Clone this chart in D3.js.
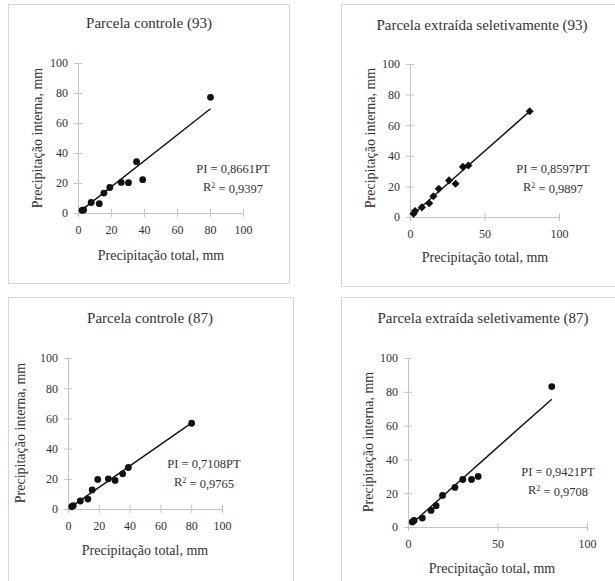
<!DOCTYPE html>
<html>
<head>
<meta charset="utf-8">
<script src="https://cdn.jsdelivr.net/npm/d3@7"></script>
<style>
  body { margin: 0; background: #fff; }
  svg text { font-family: "Liberation Serif", "DejaVu Serif", serif; }
</style>
</head>
<body>
<svg id="chart" width="615" height="581"></svg>
<script>
// precipitação total (mm) of each event, same events in all four plots
var precipTotal = [2.4, 3.4, 8, 12.9, 15.7, 19.3, 26.2, 30.6, 35.5, 39.2, 80.3]

// precipitação interna (mm) per plot
var controle93 = [1.8, 2.0, 7.0, 6.2, 13.3, 17.0, 20.4, 20.2, 34.2, 22.2, 77.1]
var extraida93 = [2.2, 3.9, 6.3, 9.0, 13.6, 18.4, 23.9, 21.7, 32.8, 33.7, 69.1]
var controle87 = [1.5, 2.2, 5.3, 6.6, 12.6, 19.6, 20.0, 18.9, 23.3, 27.5, 56.8]
var extraida87 = [3.0, 3.9, 5.3, 9.8, 12.6, 18.7, 23.4, 28.1, 28.1, 29.9, 83.1]

var titles = ["Parcela controle (93)", "Parcela extraída seletivamente (93)",
              "Parcela controle (87)", "Parcela extraída seletivamente (87)"]
var slopes = ["0,8661", "0,8597", "0,7108", "0,9421"]
var slopeValues = [0.8661, 0.8597, 0.7108, 0.9421]
var r2 = ["0,9397", "0,9897", "0,9765", "0,9708"]
var yTicks = [0, 20, 40, 60, 80, 100]
var xTicksFine = [0, 20, 40, 60, 80, 100]
var xTicksCoarse = [0, 50, 100]

var textColor = "#333"
var axisColor = "#c4c4c4"
var serif = "'Liberation Serif', 'DejaVu Serif', serif"

// layout of each panel (box, plot area, label spots)
var panels = [
  {data: controle93, marker: "circle", xTicks: xTicksFine,
   box: [8.5, 4.5, 281, 279], x0: 78, x1: 243, y0: 213, y1: 63,
   title: [149, 23], xlab: [161, 255], ylab: [37, 138], eq: [233, 169]},
  {data: extraida93, marker: "diamond", xTicks: xTicksCoarse,
   box: [341.5, 4.5, 300, 282], x0: 410, x1: 559, y0: 217, y1: 64,
   title: [482, 25], xlab: [485, 257], ylab: [370, 138], eq: [553, 169]},
  {data: controle87, marker: "circle", xTicks: xTicksFine,
   box: [8.5, 297.5, 285, 300], x0: 68, x1: 222, y0: 509, y1: 358,
   title: [150, 318], xlab: [145, 550], ylab: [20, 433], eq: [204, 464]},
  {data: extraida87, marker: "circle", xTicks: xTicksCoarse,
   box: [341.5, 297.5, 300, 300], x0: 408, x1: 587, y0: 527, y1: 358,
   title: [483, 318], xlab: [492, 568], ylab: [368, 442], eq: [558, 472]}
]

var svg = d3.select("#chart")

panels.forEach(function(p, i) {
  var g = svg.append("g")

  g.append("rect")
    .attr("x", p.box[0]).attr("y", p.box[1])
    .attr("width", p.box[2]).attr("height", p.box[3])
    .attr("fill", "none").attr("stroke", "#d6d6d6")

  var x = d3.scaleLinear().domain([0, 100]).range([p.x0, p.x1])
  var y = d3.scaleLinear().domain([0, 100]).range([p.y0, p.y1])

  var xAxis = g.append("g")
    .attr("transform", `translate(0,${p.y0})`)
    .call(d3.axisBottom(x).tickValues(p.xTicks).tickSize(4).tickSizeOuter(0).tickPadding(8))
  xAxis.selectAll(".tick line").attr("y1", -4)

  var yAxis = g.append("g")
    .attr("transform", `translate(${p.x0},0)`)
    .call(d3.axisLeft(y).tickValues(yTicks).tickSize(4).tickSizeOuter(0).tickPadding(6))
  yAxis.selectAll(".tick line").attr("x1", 4)

  g.selectAll(".domain, .tick line").attr("stroke", axisColor)
  g.selectAll("g").attr("font-family", serif)
  g.selectAll(".tick text")
    .attr("fill", textColor)
    .style("font-family", serif)
    .style("font-size", "12px")

  // trend line through origin, over the range of the data
  var xmin = d3.min(precipTotal), xmax = d3.max(precipTotal)
  g.append("line")
    .attr("x1", x(xmin)).attr("y1", y(slopeValues[i] * xmin))
    .attr("x2", x(xmax)).attr("y2", y(slopeValues[i] * xmax))
    .attr("stroke", "#111").attr("stroke-width", 1.4)

  var pts = precipTotal.map((t, k) => ({x: t, y: p.data[k]}))
  if (p.marker === "circle") {
    g.selectAll("circle.pt").data(pts).enter().append("circle")
      .attr("class", "pt")
      .attr("cx", d => x(d.x)).attr("cy", d => y(d.y))
      .attr("r", 3.4).attr("fill", "#111")
  } else {
    var sym = d3.symbol().type(d3.symbolDiamond2).size(42)
    g.selectAll("path.pt").data(pts).enter().append("path")
      .attr("class", "pt")
      .attr("transform", d => `translate(${x(d.x)},${y(d.y)})`)
      .attr("d", sym).attr("fill", "#111")
  }

  g.append("text")
    .attr("x", p.title[0]).attr("y", p.title[1]).attr("dy", "0.35em")
    .attr("text-anchor", "middle").attr("fill", textColor)
    .style("font-family", serif).style("font-size", "15px")
    .text(titles[i])

  g.append("text")
    .attr("x", p.xlab[0]).attr("y", p.xlab[1]).attr("dy", "0.35em")
    .attr("text-anchor", "middle").attr("fill", textColor)
    .style("font-family", serif).style("font-size", "14px")
    .text("Precipitação total, mm")

  g.append("text")
    .attr("transform", `translate(${p.ylab[0]},${p.ylab[1]}) rotate(-90)`)
    .attr("dy", "0.35em")
    .attr("text-anchor", "middle").attr("fill", textColor)
    .style("font-family", serif).style("font-size", "14px")
    .text("Precipitação interna, mm")

  g.append("text")
    .attr("x", p.eq[0]).attr("y", p.eq[1]).attr("dy", "0.35em")
    .attr("text-anchor", "middle").attr("fill", textColor)
    .style("font-family", serif).style("font-size", "12.5px")
    .text("PI = " + slopes[i] + "PT")

  var rt = g.append("text")
    .attr("x", p.eq[0]).attr("y", p.eq[1] + 18).attr("dy", "0.35em")
    .attr("text-anchor", "middle").attr("fill", textColor)
    .style("font-family", serif).style("font-size", "12.5px")
  rt.append("tspan").text("R")
  rt.append("tspan").attr("dy", "-0.45em").style("font-size", "8px").text("2")
  rt.append("tspan").attr("dy", "0.45em").text(" = " + r2[i])
})
</script>
</body>
</html>
